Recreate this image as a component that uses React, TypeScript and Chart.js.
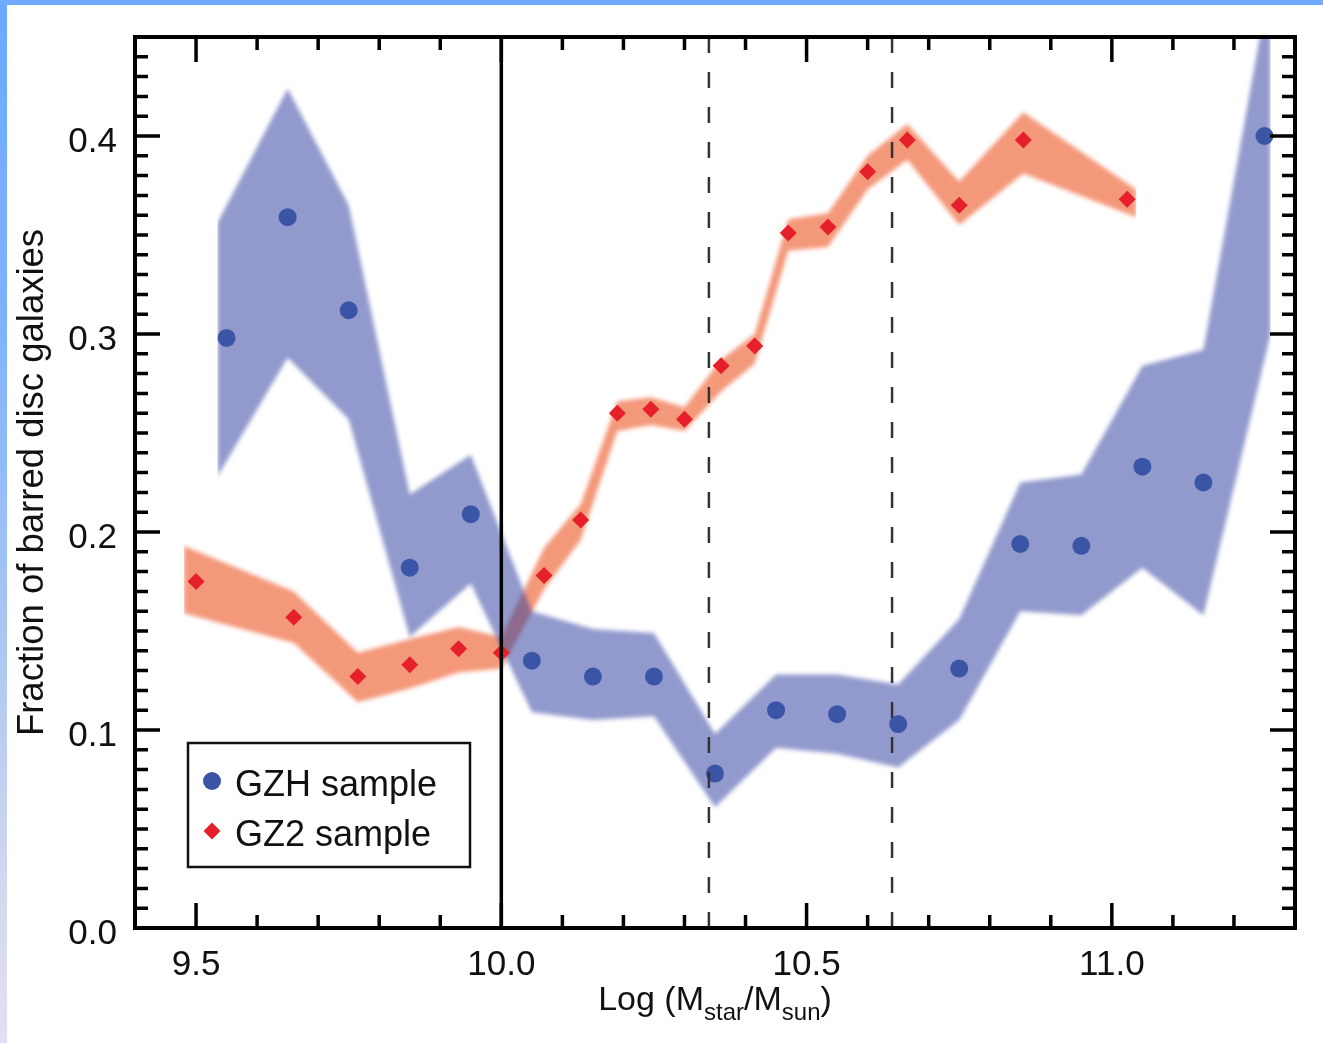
import { useEffect, useRef } from 'react';
import { Chart, registerables } from 'chart.js';

// Axis ranges and labelled ticks
const X_MIN = 9.4;
const X_MAX = 11.3;
const Y_MIN = 0;
const Y_MAX = 0.45;
const xTickValues = [9.5, 10.0, 10.5, 11.0];
const yTickValues = [0.0, 0.1, 0.2, 0.3, 0.4];

// GZH sample: bar fraction per stellar-mass bin
const gzhMass = [9.55, 9.65, 9.75, 9.85, 9.95, 10.05, 10.15, 10.25, 10.35, 10.45, 10.55, 10.65, 10.75, 10.85, 10.95, 11.05, 11.15, 11.25];
const gzhFraction = [0.298, 0.359, 0.312, 0.182, 0.209, 0.135, 0.127, 0.127, 0.078, 0.110, 0.108, 0.103, 0.131, 0.194, 0.193, 0.233, 0.225, 0.400];

// GZH uncertainty envelope
const gzhBandMass = [9.535, 9.65, 9.75, 9.85, 9.95, 10.05, 10.15, 10.25, 10.35, 10.45, 10.55, 10.65, 10.75, 10.85, 10.95, 11.05, 11.15, 11.26];
const gzhUpper = [0.356, 0.424, 0.365, 0.219, 0.239, 0.160, 0.151, 0.149, 0.098, 0.128, 0.128, 0.123, 0.156, 0.225, 0.229, 0.284, 0.292, 0.480];
const gzhLower = [0.228, 0.288, 0.257, 0.147, 0.174, 0.109, 0.105, 0.107, 0.061, 0.091, 0.088, 0.081, 0.105, 0.160, 0.158, 0.182, 0.158, 0.300];

// GZ2 sample: bar fraction per stellar-mass bin
const gz2Mass = [9.50, 9.66, 9.765, 9.85, 9.93, 10.00, 10.07, 10.13, 10.19, 10.245, 10.30, 10.36, 10.415, 10.47, 10.535, 10.60, 10.665, 10.75, 10.855, 11.025];
const gz2Fraction = [0.175, 0.157, 0.127, 0.133, 0.141, 0.139, 0.178, 0.206, 0.260, 0.262, 0.257, 0.284, 0.294, 0.351, 0.354, 0.382, 0.398, 0.365, 0.398, 0.368];

// GZ2 uncertainty envelope
const gz2BandMass = [9.48, 9.66, 9.765, 9.85, 9.93, 10.00, 10.07, 10.13, 10.19, 10.245, 10.30, 10.36, 10.415, 10.47, 10.535, 10.60, 10.665, 10.75, 10.855, 11.04];
const gz2Upper = [0.193, 0.170, 0.139, 0.146, 0.152, 0.147, 0.192, 0.214, 0.266, 0.268, 0.263, 0.287, 0.300, 0.358, 0.361, 0.390, 0.406, 0.377, 0.412, 0.373];
const gz2Lower = [0.159, 0.144, 0.114, 0.121, 0.129, 0.131, 0.171, 0.196, 0.251, 0.254, 0.251, 0.271, 0.285, 0.342, 0.344, 0.373, 0.388, 0.355, 0.381, 0.359];

// Reference mass cuts
const massLimit = 10.0;
const dashedCuts = [10.34, 10.64];

const yTitle = 'Fraction of barred disc galaxies';
const xTitleParts = [
  { text: 'Log (M', sub: false },
  { text: 'star', sub: true },
  { text: '/M', sub: false },
  { text: 'sun', sub: true },
  { text: ')', sub: false },
];
const legendEntries = ['GZH sample', 'GZ2 sample'];

const FONT = '"Liberation Sans", Arial, Helvetica, sans-serif';
const BLUE = '#3b55a6';
const RED = '#e6202a';
const BLUE_BAND = 'rgba(50, 65, 160, 0.53)';
const RED_BAND = 'rgba(234, 61, 4, 0.53)';

const pts = (xs: number[], ys: number[]) => xs.map((x, i) => ({ x, y: ys[i] }));

// Soft-edged envelopes: the filler paints right after this hook, the filter is lifted before the first dataset
const bandBlur = {
  id: 'bandBlur',
  beforeDatasetsDraw(chart: any) {
    chart.ctx.save();
    chart.ctx.filter = 'blur(2px)';
    chart.$blurOn = true;
  },
  beforeDatasetDraw(chart: any) {
    if (chart.$blurOn) {
      chart.ctx.restore();
      chart.$blurOn = false;
    }
  },
  afterDatasetsDraw(chart: any) {
    if (chart.$blurOn) {
      chart.ctx.restore();
      chart.$blurOn = false;
    }
  },
};
Chart.register(bandBlur);
Chart.register(...registerables);

// Boxed frame with inward ticks on all four sides
const frameTicks = {
  id: 'frameTicks',
  afterDraw(chart: any) {
    const { ctx, chartArea: a, scales } = chart;
    const x = scales.x;
    const y = scales.y;
    ctx.save();
    ctx.strokeStyle = '#000';
    ctx.lineWidth = 3.5;
    ctx.lineCap = 'butt';
    ctx.beginPath();
    for (let k = 95; k <= 112; k++) {
      const px = x.getPixelForValue(k / 10);
      const len = k % 5 === 0 ? 25 : 13;
      ctx.moveTo(px, a.bottom);
      ctx.lineTo(px, a.bottom - len);
      ctx.moveTo(px, a.top);
      ctx.lineTo(px, a.top + len);
    }
    for (let k = 1; k <= 44; k++) {
      const py = y.getPixelForValue(k / 100);
      const len = k % 10 === 0 ? 25 : 13;
      ctx.moveTo(a.left, py);
      ctx.lineTo(a.left + len, py);
      ctx.moveTo(a.right, py);
      ctx.lineTo(a.right - len, py);
    }
    ctx.stroke();
    ctx.lineWidth = 4;
    ctx.strokeRect(a.left, a.top, a.right - a.left, a.bottom - a.top);
    ctx.restore();
  },
};

// Axis title with subscripts
const xTitle = {
  id: 'xTitle',
  afterDraw(chart: any) {
    const { ctx, chartArea: a } = chart;
    const big = `34px ${FONT}`;
    const small = `24px ${FONT}`;
    ctx.save();
    ctx.fillStyle = '#111';
    ctx.textBaseline = 'alphabetic';
    ctx.textAlign = 'left';
    const widths = xTitleParts.map((p) => {
      ctx.font = p.sub ? small : big;
      return ctx.measureText(p.text).width;
    });
    const total = widths.reduce((s, w) => s + w, 0);
    let cx = (a.left + a.right) / 2 - total / 2;
    const base = a.bottom + 82;
    xTitleParts.forEach((p, i) => {
      ctx.font = p.sub ? small : big;
      ctx.fillText(p.text, cx, p.sub ? base + 10 : base);
      cx += widths[i];
    });
    ctx.restore();
  },
};

// Boxed legend inside the plot area
const boxLegend = {
  id: 'boxLegend',
  afterDraw(chart: any) {
    const { ctx, chartArea: a } = chart;
    const left = a.left + 53;
    const top = a.top + 706;
    const w = 282;
    const h = 124;
    ctx.save();
    ctx.fillStyle = '#fff';
    ctx.fillRect(left, top, w, h);
    ctx.strokeStyle = '#111';
    ctx.lineWidth = 2.5;
    ctx.strokeRect(left, top, w, h);
    ctx.font = `36px ${FONT}`;
    ctx.textBaseline = 'alphabetic';
    ctx.textAlign = 'left';
    legendEntries.forEach((label, i) => {
      const ds = chart.data.datasets.find((d: any) => d.label === label);
      const cy = top + 38 + i * 50;
      const cx = left + 24;
      ctx.fillStyle = ds.backgroundColor;
      ctx.beginPath();
      if (ds.pointStyle === 'rectRot') {
        const r = 8.5;
        ctx.moveTo(cx - r, cy);
        ctx.lineTo(cx, cy - r);
        ctx.lineTo(cx + r, cy);
        ctx.lineTo(cx, cy + r);
        ctx.closePath();
      } else {
        ctx.arc(cx, cy, 9, 0, Math.PI * 2);
      }
      ctx.fill();
      ctx.fillStyle = '#111';
      ctx.fillText(label, left + 47, cy + 15);
    });
    ctx.restore();
  },
};

export default function App() {
  const ref = useRef<HTMLCanvasElement | null>(null);

  useEffect(() => {
    if (!ref.current) return;
    const tickFont = { family: FONT, size: 35 };
    const chart = new Chart(ref.current, {
      type: 'line',
      data: {
        datasets: [
          {
            label: 'GZH envelope',
            data: pts(gzhBandMass, gzhUpper),
            borderWidth: 0,
            pointRadius: 0,
            fill: '+1',
            backgroundColor: BLUE_BAND,
            order: 9,
          },
          {
            label: 'GZH envelope lower',
            data: pts(gzhBandMass, gzhLower),
            borderWidth: 0,
            pointRadius: 0,
            fill: false,
            order: 9,
          },
          {
            label: 'GZ2 envelope',
            data: pts(gz2BandMass, gz2Upper),
            borderWidth: 0,
            pointRadius: 0,
            fill: '+1',
            backgroundColor: RED_BAND,
            order: 10,
          },
          {
            label: 'GZ2 envelope lower',
            data: pts(gz2BandMass, gz2Lower),
            borderWidth: 0,
            pointRadius: 0,
            fill: false,
            order: 10,
          },
          {
            label: 'GZH sample',
            data: pts(gzhMass, gzhFraction),
            showLine: false,
            pointStyle: 'circle',
            pointRadius: 9,
            borderWidth: 0,
            backgroundColor: BLUE,
            pointBackgroundColor: BLUE,
            order: 3,
          },
          {
            label: 'GZ2 sample',
            data: pts(gz2Mass, gz2Fraction),
            showLine: false,
            pointStyle: 'rectRot',
            pointRadius: 8.5,
            borderWidth: 0,
            backgroundColor: RED,
            pointBackgroundColor: RED,
            order: 2,
          },
          {
            label: 'mass limit',
            data: [{ x: massLimit, y: Y_MIN }, { x: massLimit, y: Y_MAX }],
            borderColor: '#000',
            borderWidth: 3.5,
            pointRadius: 0,
            fill: false,
            order: 1,
          },
          ...dashedCuts.map((m) => ({
            label: `cut ${m}`,
            data: [{ x: m, y: Y_MIN }, { x: m, y: Y_MAX }],
            borderColor: '#333',
            borderWidth: 2.5,
            borderDash: [16, 19],
            pointRadius: 0,
            fill: false,
            order: 1,
          })),
        ],
      },
      options: {
        responsive: false,
        animation: false,
        layout: { padding: { left: 0, top: 37, right: 28, bottom: 0 } },
        plugins: {
          legend: { display: false },
          tooltip: { enabled: false },
          filler: { drawTime: 'beforeDatasetsDraw' },
        },
        scales: {
          x: {
            type: 'linear',
            min: X_MIN,
            max: X_MAX,
            grid: { display: false },
            border: { display: false },
            afterBuildTicks: (s: any) => {
              s.ticks = xTickValues.map((value) => ({ value }));
            },
            afterFit: (s: any) => {
              s.height = 115;
            },
            ticks: {
              font: tickFont,
              color: '#111',
              padding: 8,
              maxRotation: 0,
              autoSkip: false,
              callback: (v: any) => Number(v).toFixed(1),
            },
          },
          y: {
            type: 'linear',
            min: Y_MIN,
            max: Y_MAX,
            grid: { display: false },
            border: { display: false },
            afterBuildTicks: (s: any) => {
              s.ticks = yTickValues.map((value) => ({ value }));
            },
            afterFit: (s: any) => {
              s.width = 135;
            },
            ticks: {
              font: tickFont,
              color: '#111',
              padding: 10,
              labelOffset: 6,
              autoSkip: false,
              callback: (v: any) => Number(v).toFixed(1),
            },
            title: {
              display: true,
              text: yTitle,
              font: { family: FONT, size: 36.5 },
              color: '#111',
              padding: { top: 11, bottom: 0 },
            },
          },
        },
      },
      plugins: [frameTicks, xTitle, boxLegend],
    } as any);
    return () => chart.destroy();
  }, []);

  return (
    <div
      style={{
        position: 'absolute',
        left: 0,
        top: 0,
        width: 1323,
        height: 1043,
        background: '#fff',
        overflow: 'hidden',
      }}
    >
      <canvas
        ref={ref}
        width={1323}
        height={1043}
        style={{ position: 'absolute', left: 0, top: 0, width: 1323, height: 1043 }}
      />
      <div
        style={{
          position: 'absolute',
          left: 0,
          top: 0,
          width: 7,
          height: 1043,
          background: 'linear-gradient(#6ea8fe 0%, #7db3fb 30%, #a9c6f2 60%, #d2d8f0 85%, #e3dff3 100%)',
        }}
      />
      <div
        style={{ position: 'absolute', left: 0, top: 0, width: 1323, height: 5, background: '#70abfe' }}
      />
    </div>
  );
}
